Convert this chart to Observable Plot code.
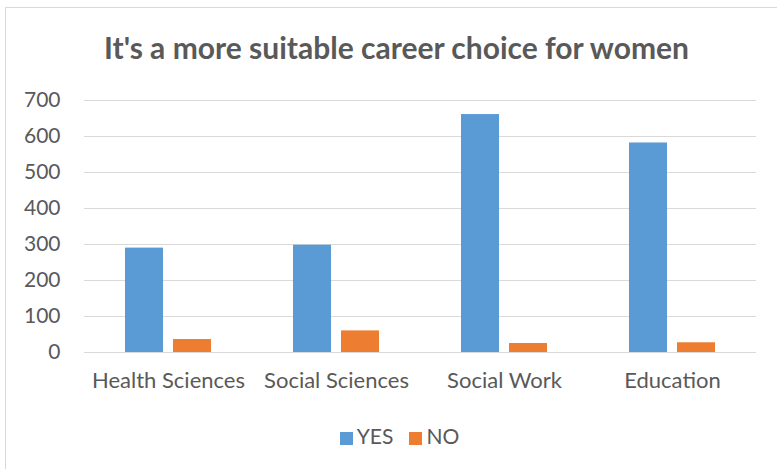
<!DOCTYPE html>
<html>
<head>
<meta charset="utf-8">
<script src="https://cdn.jsdelivr.net/npm/d3@7"></script>
<script src="https://cdn.jsdelivr.net/npm/@observablehq/plot@0.6"></script>
<style>
  html, body { margin: 0; padding: 0; background: #fff; }
  #wrap { position: relative; width: 777px; height: 469px; overflow: hidden; font-family: Lato, sans-serif; color: #595959; }
  #frame { position: absolute; left: 5px; top: 7px; width: 800px; height: 500px; border-left: 1px solid #d9d9d9; border-top: 1px solid #d9d9d9; }
  #chart { position: absolute; left: 0; top: 0; }
  #title { position: absolute; left: 0; width: 793px; top: 32px; text-align: center; font-weight: bold; font-size: 30px; line-height: 30px; white-space: nowrap; }
  #legend { position: absolute; left: 0; width: 799px; top: 425px; text-align: center; font-size: 21px; line-height: 21px; white-space: nowrap; }
  .sw { display: inline-block; width: 13px; height: 13px; margin-right: 4px; vertical-align: -1px; }
  .item { display: inline-block; margin: 0 8px; }
</style>
</head>
<body>
<div id="wrap">
  <div id="frame"></div>
  <div id="chart"></div>
  <div id="title">It's a more suitable career choice for women</div>
  <div id="legend"></div>
</div>
<script>
const categories = ["Health Sciences", "Social Sciences", "Social Work", "Education"];
const series = ["YES", "NO"];
const yesValues = [290, 298, 661, 582];
const noValues = [36, 60, 25, 27];
const yTicks = [0, 100, 200, 300, 400, 500, 600, 700];
const colors = ["#5B9BD5", "#ED7D31"];

const data = [];
categories.forEach((c, i) => {
  data.push({category: c, series: "YES", value: yesValues[i]});
  data.push({category: c, series: "NO", value: noValues[i]});
});

const chart = Plot.plot({
  width: 777,
  height: 469,
  marginLeft: 83,
  marginRight: 21,
  marginTop: 100,
  marginBottom: 117,
  style: {fontFamily: "Lato, sans-serif", fontSize: "21px", color: "#595959", background: "transparent"},
  fx: {domain: categories, padding: 0, label: null, axis: null},
  x: {domain: series, axis: null, paddingInner: 10 / 48, paddingOuter: 41 / 48},
  y: {domain: [0, 700], label: null, axis: null},
  color: {domain: series, range: colors},
  marks: [
    Plot.ruleY(yTicks, {stroke: "#d9d9d9", strokeWidth: 1.2}),
    Plot.barY(data, {fx: "category", x: "series", y: "value", fill: "series"}),
    Plot.axisY(yTicks, {tickSize: 0, tickPadding: 24, fontSize: 21, label: null}),
    Plot.axisFx({anchor: "bottom", tickSize: 0, tickPadding: 20, fontSize: 22, label: null})
  ]
});
document.getElementById("chart").appendChild(chart);

const legend = document.getElementById("legend");
series.forEach((s, i) => {
  const item = document.createElement("span");
  item.className = "item";
  const sw = document.createElement("span");
  sw.className = "sw";
  sw.style.background = colors[i];
  item.appendChild(sw);
  item.appendChild(document.createTextNode(s));
  legend.appendChild(item);
});
</script>
</body>
</html>
